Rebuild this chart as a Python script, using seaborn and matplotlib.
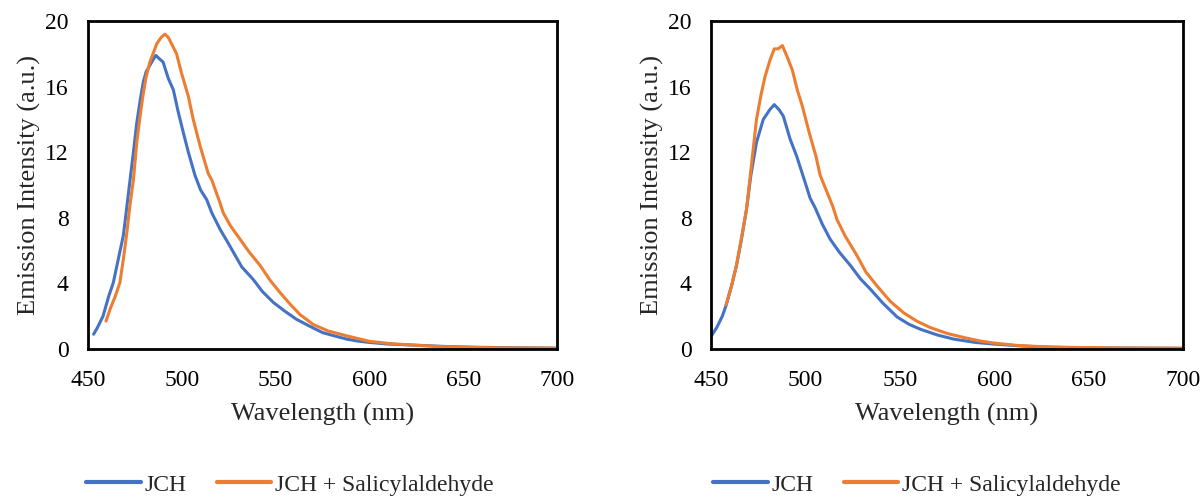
import numpy as np
import pandas as pd
import matplotlib
matplotlib.use("Agg")
import matplotlib.pyplot as plt
import seaborn as sns
from matplotlib.lines import Line2D

# ---------------- data ----------------
left_jch_wl = [453, 455, 458, 461, 463.5, 466, 468.8, 470, 472.4, 474, 476, 478, 479.5, 481, 483,
               485, 486.2, 488, 490, 492.8, 495.5, 498, 500.8, 503.5, 507, 510, 513.3, 516, 520.4,
               524, 527.5, 532, 538, 543, 548.8, 555, 561, 568, 575, 582, 588, 594, 600, 610, 623,
               641, 660, 680, 700]
left_jch_int = [0.9, 1.3, 2.0, 3.2, 4.05, 5.4, 6.9, 8.0, 10.3, 11.8, 13.8, 15.3, 16.3, 16.9, 17.3,
                17.7, 17.9, 17.7, 17.5, 16.5, 15.8, 14.5, 13.2, 12.0, 10.6, 9.7, 9.1, 8.3, 7.3,
                6.6, 5.9, 5.0, 4.25, 3.5, 2.84, 2.3, 1.82, 1.4, 1.0, 0.78, 0.6, 0.48, 0.4, 0.3, 0.24,
                0.15, 0.1, 0.07, 0.05]

left_sal_wl = [459.6, 462, 464.5, 467, 469, 470.6, 472.4, 474.2, 476, 478, 479.5, 481, 483, 485,
               486.6, 489, 491, 492.8, 494.6, 497.2, 499.9, 503.5, 506.1, 509.7, 514.1, 516, 520.4,
               522.1, 526, 531, 536, 541.7, 547, 552.3, 558, 563, 570, 578, 588, 600, 611, 623,
               637, 650, 670, 700]
left_sal_int = [1.7, 2.5, 3.2, 4.05, 5.6, 7.0, 8.8, 10.3, 12.6, 14.4, 15.6, 16.6, 17.5, 18.1,
                18.6, 19.0, 19.2, 19.0, 18.6, 18.0, 16.8, 15.4, 14.0, 12.4, 10.7, 10.3, 8.9,
                8.3, 7.5, 6.7, 5.9, 5.1, 4.2, 3.45, 2.7, 2.1, 1.5, 1.1, 0.8, 0.47, 0.33, 0.24,
                0.15, 0.1, 0.07, 0.05]

right_jch_wl = [450.2, 453, 456, 458.1, 461, 463.5, 466, 468.8, 471, 474.1, 477.7, 481.2, 483.5,
                486, 488.3, 491.9, 495.4, 498.9, 502.5, 505.2, 509, 513.1, 518, 523.8, 529, 534.4,
                541, 548.6, 555, 561, 570, 578.7, 590, 600, 615, 630, 660, 700]
right_jch_int = [0.8, 1.3, 2.0, 2.7, 3.9, 5.1, 6.6, 8.5, 10.5, 12.6, 14.0, 14.6, 14.9,
                 14.6, 14.2, 12.8, 11.75, 10.5, 9.2, 8.6, 7.6, 6.7, 5.9, 5.1, 4.3, 3.65,
                 2.8, 1.95, 1.5, 1.2, 0.85, 0.6, 0.4, 0.3, 0.18, 0.1, 0.06, 0.04]

right_sal_wl = [458, 461, 463.5, 466, 468.8, 471.5, 474.1, 476.5, 478.6, 481.2, 483.5, 485.5,
                487.8, 490.4, 493.1, 495.7, 498.4, 502, 505.6, 507.8, 509.2, 514.5, 516.7, 521,
                527.3, 532, 537.9, 545, 552.1, 559, 566.3, 575, 584, 592, 600, 612, 624, 640,
                670, 700]
right_sal_int = [2.7, 3.9, 5.1, 6.7, 8.5, 11.3, 14.0, 15.5, 16.6, 17.6, 18.3, 18.3,
                 18.5, 17.8, 17.0, 15.8, 14.8, 13.2, 11.75, 10.6, 10.2, 8.7, 7.9, 6.9,
                 5.7, 4.7, 3.85, 2.9, 2.2, 1.7, 1.3, 0.95, 0.7, 0.5, 0.36, 0.22, 0.15, 0.1,
                 0.06, 0.05]

series_labels = ["JCH", "JCH + Salicylaldehyde"]
x_ticks = [450, 500, 550, 600, 650, 700]
y_ticks = [0, 4, 8, 12, 16, 20]

BLUE = "#4472C4"
ORANGE = "#ED7D31"

# ---------------- style ----------------
sns.set_theme(style="white")
plt.rcParams["font.family"] = ["Liberation Serif", "DejaVu Serif"]

fig = plt.figure(figsize=(12.04, 4.97), dpi=100)
ax1 = fig.add_axes([88 / 1204, 1 - 349 / 497, (557 - 88) / 1204, (349 - 21) / 497])
ax2 = fig.add_axes([711 / 1204, 1 - 349 / 497, (1183 - 711) / 1204, (349 - 21) / 497])

panels = [
    (ax1, left_jch_wl, left_jch_int, left_sal_wl, left_sal_int, 290 / 1204),
    (ax2, right_jch_wl, right_jch_int, right_sal_wl, right_sal_int, 917 / 1204),
]

for ax, bwl, bint, owl, oint, legx in panels:
    dfb = pd.DataFrame({"wl": bwl, "I": bint})
    dfo = pd.DataFrame({"wl": owl, "I": oint})
    sns.lineplot(data=dfb, x="wl", y="I", ax=ax, color=BLUE, lw=2.2, legend=False)
    sns.lineplot(data=dfo, x="wl", y="I", ax=ax, color=ORANGE, lw=2.2, legend=False)
    ax.set_xlim(450, 700)
    ax.set_ylim(0, 20)
    ax.set_xticks(x_ticks)
    ax.set_yticks(y_ticks)
    ax.tick_params(axis="both", direction="in", length=6, width=1.2, color="#404040",
                   labelsize=17, labelcolor="black")
    ax.tick_params(axis="x", pad=15)
    ax.tick_params(axis="y", pad=14)
    for s in ax.spines.values():
        s.set_color("black")
        s.set_linewidth(2.0)
    ax.set_xlabel("Wavelength (nm)", fontsize=19, labelpad=9)
    ax.set_ylabel("Emission Intensity (a.u.)", fontsize=19, labelpad=3)
    handles = [Line2D([0], [0], color=BLUE, lw=3), Line2D([0], [0], color=ORANGE, lw=3)]
    fig.legend(handles, series_labels, loc="center", bbox_to_anchor=(legx, 1 - 485 / 497),
               ncol=2, frameon=False, fontsize=17, handlelength=2.3, handletextpad=0.15,
               columnspacing=1.3)

fig.savefig("out.png", dpi=100)
